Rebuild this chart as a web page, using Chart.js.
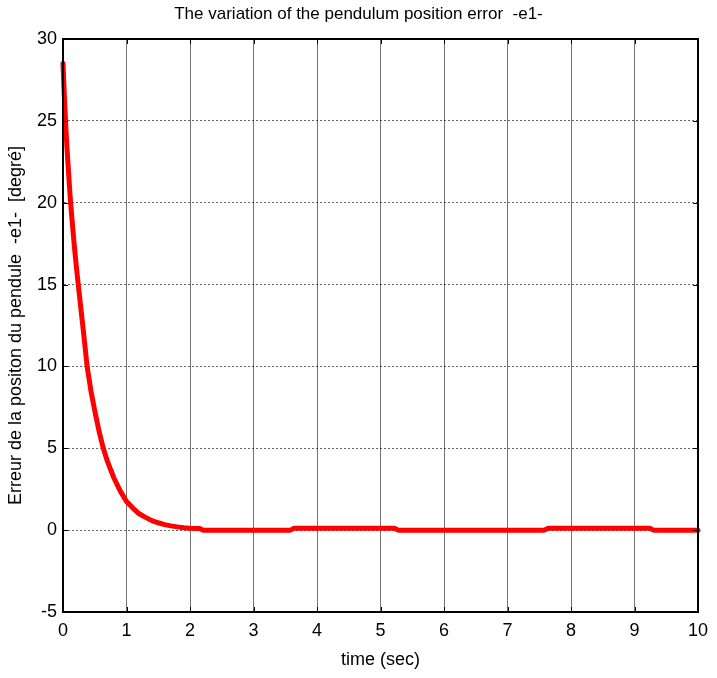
<!DOCTYPE html>
<html>
<head>
<meta charset="utf-8">
<title>Pendulum position error</title>
<script src="https://cdn.jsdelivr.net/npm/chart.js@4/dist/chart.umd.min.js"></script>
<style>
    html, body { margin: 0; padding: 0; background: #fff; }
    #wrap { width: 717px; height: 678px; }
</style>
</head>
<body>
<div id="wrap"><canvas id="errorChart" width="717" height="678"></canvas></div>
<script>
// Position error e1 of the pendulum over time
const timeSec = [0, 0.02, 0.04, 0.06, 0.08, 0.1, 0.12, 0.15, 0.18, 0.21, 0.24, 0.28, 0.32, 0.38,
    0.44, 0.5, 0.57, 0.635, 0.7, 0.8, 0.9, 1.0, 1.1, 1.2, 1.3, 1.4, 1.5, 1.6, 1.7, 1.8, 1.9, 2.0,
    2.1, 2.16, 2.2, 3.58, 3.64, 5.22, 5.28, 7.58, 7.64, 9.24, 9.3, 10];
const errorDeg = [28.5, 26.6, 25.0, 23.5, 22.3, 21.1, 20.0, 18.6, 17.3, 16.1, 15.0, 13.6, 12.2, 10.0,
    8.5, 7.3, 6.0, 5.0, 4.2, 3.2, 2.4, 1.75, 1.35, 1.0, 0.78, 0.58, 0.45, 0.34, 0.26, 0.2, 0.15, 0.12,
    0.1, 0.1, 0.0, 0.0, 0.12, 0.12, 0.0, 0.0, 0.12, 0.12, 0.0, 0.0];

const xTicks = [0, 1, 2, 3, 4, 5, 6, 7, 8, 9, 10];
const yTicks = [-5, 0, 5, 10, 15, 20, 25, 30];

const FONT = "'Liberation Sans', Arial, sans-serif";

// Box around the axes plus short inward tick marks on all four sides
const axesBox = {
    id: 'axesBox',
    afterDraw(chart) {
        const { ctx, chartArea: a, scales } = chart;
        const len = 5;
        ctx.save();
        ctx.strokeStyle = '#000';
        ctx.lineWidth = 1;
        xTicks.forEach(v => {
            const px = Math.round(scales.x.getPixelForValue(v)) + 0.5;
            ctx.beginPath();
            ctx.moveTo(px, a.bottom); ctx.lineTo(px, a.bottom - len);
            ctx.moveTo(px, a.top); ctx.lineTo(px, a.top + len);
            ctx.stroke();
        });
        yTicks.forEach(v => {
            const py = Math.round(scales.y.getPixelForValue(v)) + 0.5;
            ctx.beginPath();
            ctx.moveTo(a.left, py); ctx.lineTo(a.left + len, py);
            ctx.moveTo(a.right, py); ctx.lineTo(a.right - len, py);
            ctx.stroke();
        });
        ctx.lineWidth = 2;
        ctx.strokeRect(a.left, a.top, a.right - a.left, a.bottom - a.top);
        ctx.restore();
    }
};

new Chart(document.getElementById('errorChart'), {
    type: 'line',
    data: {
        datasets: [{
            label: 'e1',
            data: timeSec.map((t, i) => ({ x: t, y: errorDeg[i] })),
            borderColor: '#ff0000',
            borderWidth: 5,
            pointRadius: 0,
            tension: 0,
            borderJoinStyle: 'round',
            borderCapStyle: 'round',
            clip: 3
        }]
    },
    options: {
        responsive: false,
        animation: false,
        layout: { padding: 0 },
        plugins: {
            legend: { display: false },
            tooltip: { enabled: false },
            title: {
                display: true,
                text: 'The variation of the pendulum position error  -e1-',
                color: '#000',
                font: { family: FONT, size: 17, weight: 'normal' },
                padding: { top: 4, bottom: 14.6 }
            }
        },
        scales: {
            x: {
                type: 'linear',
                min: 0,
                max: 10,
                afterBuildTicks: s => { s.ticks = xTicks.map(v => ({ value: v })); },
                afterFit: s => { s.height = 66; },
                ticks: {
                    color: '#000',
                    padding: 8,
                    maxRotation: 0,
                    font: { family: FONT, size: 18 }
                },
                grid: {
                    color: 'rgba(0,0,0,0.55)',
                    lineWidth: 1,
                    drawTicks: false
                },
                border: { display: true, color: '#000', width: 2, dash: [] },
                title: {
                    display: true,
                    text: 'time (sec)',
                    color: '#000',
                    font: { family: FONT, size: 18 },
                    padding: { top: 0, bottom: 7 }
                }
            },
            y: {
                min: -5,
                max: 30,
                afterBuildTicks: s => { s.ticks = yTicks.map(v => ({ value: v })); },
                afterFit: s => { s.width = 63; },
                ticks: {
                    color: '#000',
                    padding: 6,
                    font: { family: FONT, size: 18 }
                },
                grid: {
                    color: 'rgba(0,0,0,0.6)',
                    lineWidth: 1,
                    drawTicks: false
                },
                // dotted horizontal grid lines
                border: { display: true, color: '#000', width: 2, dash: [2, 2] },
                title: {
                    display: true,
                    text: 'Erreur de la positon du pendule  -e1-  [degré]',
                    color: '#000',
                    font: { family: FONT, size: 18 },
                    padding: { top: 5, bottom: 0 }
                }
            },
            // empty right margin so the title stays centred on the page
            yRight: {
                position: 'right',
                display: true,
                min: -5,
                max: 30,
                afterFit: s => { s.width = 19; },
                ticks: { display: false },
                grid: { display: false, drawTicks: false },
                border: { display: false }
            }
        }
    },
    plugins: [axesBox]
});
</script>
</body>
</html>
